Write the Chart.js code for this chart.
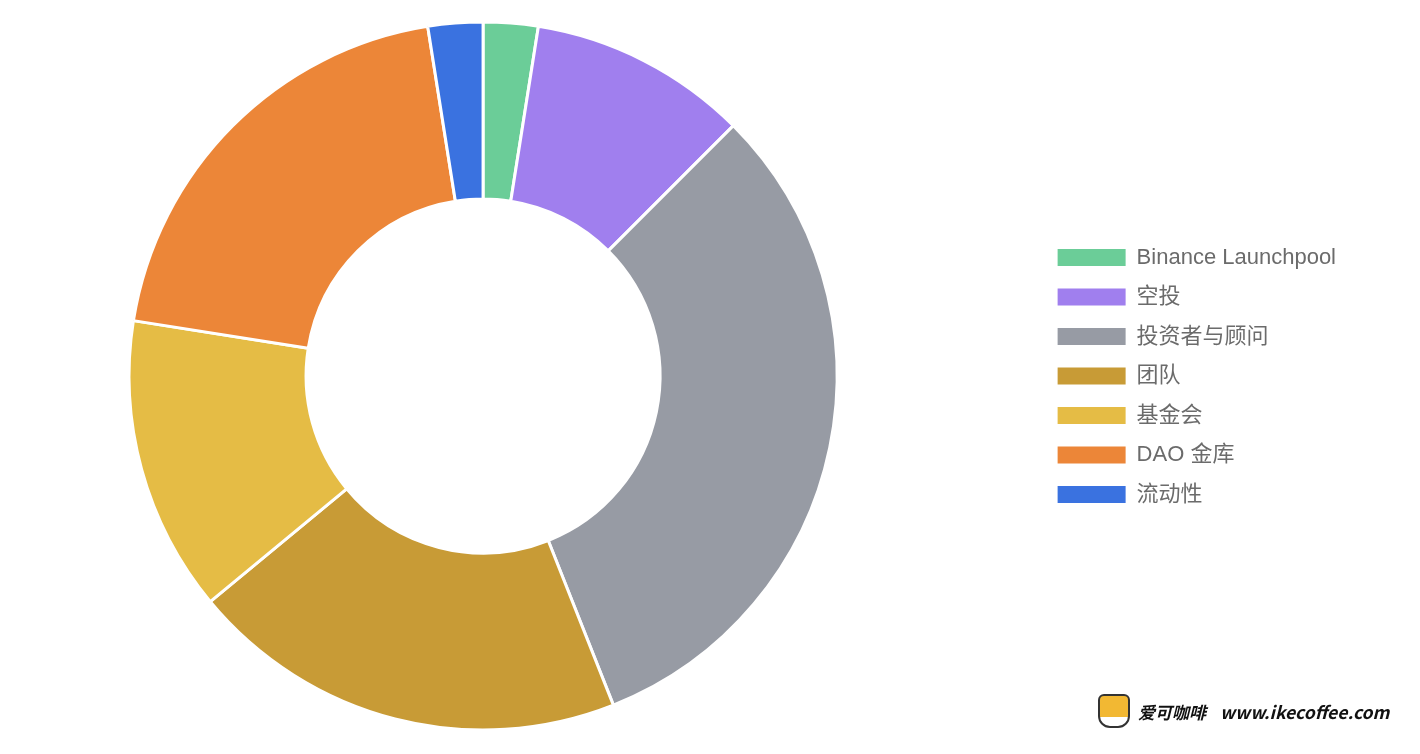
<!DOCTYPE html>
<html>
<head>
<meta charset="utf-8">
<script src="https://cdn.jsdelivr.net/npm/chart.js@4"></script>
<style>
  html, body { margin: 0; padding: 0; background: #fff; overflow: hidden; }
  .wrap { position: relative; width: 1420px; height: 754px; overflow: hidden; }
  /* canvas is a bit wider than the page and pulled left so the donut sits where the original has it */
  #chart { position: absolute; left: -74px; top: 0; }
  .watermark {
    position: absolute; left: 1098px; top: 694px;
    display: flex; align-items: center; gap: 8px;
    font-family: 'Noto Sans CJK SC', 'DejaVu Sans', sans-serif;
    font-weight: 700; font-style: italic; font-size: 17px; color: #111;
  }
  .cup {
    width: 32px; height: 34px; border-radius: 6px 6px 12px 12px;
    background: linear-gradient(#f2b833 0 70%, #fff 70%);
    border: 2px solid #333; box-sizing: border-box;
  }
</style>
</head>
<body>
<div class="wrap">
  <canvas id="chart" width="1490" height="754"></canvas>
  <div class="watermark"><div class="cup"></div><span>爱可咖啡</span><span style="margin-left:6px;font-size:17.5px">www.ikecoffee.com</span></div>
</div>
<script>
const labels = ['Binance Launchpool', '空投', '投资者与顾问', '团队', '基金会', 'DAO 金库', '流动性'];
const shares = [2.5, 10, 31.5, 20, 13.5, 20, 2.5];
const colors = ['#6bcd98', '#a07fee', '#979ba4', '#c89b36', '#e5bc45', '#ec8638', '#3a72e0'];

const font = "'Liberation Sans', 'Noto Sans CJK SC', sans-serif";

// default legend items, but without the white slice border around the swatches
function legendLabels(chart) {
  const items = Chart.controllers.doughnut.overrides.plugins.legend.labels.generateLabels(chart);
  return items.map((item) => ({ ...item, lineWidth: 0, strokeStyle: 'transparent' }));
}

new Chart(document.getElementById('chart'), {
  type: 'doughnut',
  data: {
    labels,
    datasets: [{
      data: shares,
      backgroundColor: colors,
      borderColor: '#fff',
      borderWidth: 3,
      radius: 354,
    }],
  },
  options: {
    responsive: false,
    animation: false,
    cutout: '50%',
    layout: { padding: { left: 0, right: 70, top: 0, bottom: 2 } },
    plugins: {
      tooltip: { enabled: false },
      legend: {
        position: 'right',
        labels: {
          boxWidth: 68,
          boxHeight: 17,
          padding: 17.5,
          color: '#6b6b6b',
          font: { size: 22, family: font },
          generateLabels: legendLabels,
        },
      },
    },
  },
});
</script>
</body>
</html>
